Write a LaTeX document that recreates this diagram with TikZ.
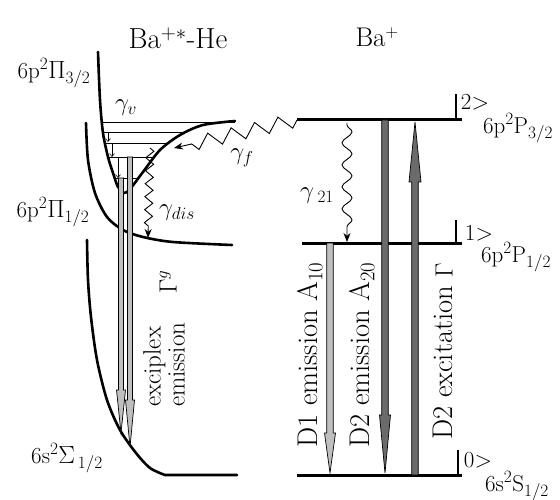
\documentclass[tikz,border=0pt]{standalone}
\usetikzlibrary{arrows.meta,decorations.pathmorphing,calc}
\tikzset{
  curve/.style={line width=2.6pt, line cap=round},
  level/.style={line width=3pt},
  vib/.style={line width=0.6pt},
  tickline/.style={line width=1.1pt},
  wave/.style={line width=0.9pt, decorate, -{Stealth[length=9pt,width=7pt]}},
  big/.style={font=\fontsize{29}{30}\selectfont, inner sep=0pt},
  lab/.style={font=\fontsize{23}{24}\selectfont, inner sep=0pt},
  gam/.style={font=\fontsize{26}{27}\selectfont, inner sep=0pt},
  rot/.style={font=\fontsize{28.5}{30}\selectfont, rotate=90, anchor=west, inner sep=0pt}
}
% wide hollow arrow: fill, from, to, head length, half shaft, half head
\newcommand\fatarrow[6]{%
  \filldraw[line width=0.7pt, fill=#1] let \p1=(#2), \p2=(#3), \p3=($(#3)!#4!(#2)$) in
    (\x1-#5,\y1) -- (\x1-#5,\y3) -- (\x1-#6,\y3) -- (\x2,\y2) -- (\x1+#6,\y3)
    -- (\x1+#5,\y3) -- (\x1+#5,\y1) -- cycle;}
\definecolor{lightarrow}{gray}{0.75}
\definecolor{darkarrow}{gray}{0.42}
\begin{document}
\begin{tikzpicture}[x=1pt,y=-1pt]
    \useasboundingbox (0,0) rectangle (560,500);
    % potential curves of the exciplex
    \draw[curve] plot[smooth] coordinates {(98,52) (100,100) (103,133) (108,157) (113,173) (118,187) (124,193) (130,189) (143,172) (160,150) (180,135) (203,125) (235,121)};
    \draw[curve] plot[smooth] coordinates {(86,123) (88,160) (95,193) (107,217) (123,230) (143,237) (173,242) (232,245)};
    \draw[curve] plot[smooth] coordinates {(87,240) (88,280) (91,317) (97,360) (107,400) (120,430) (136,453) (150,468) (165,475)} -- (237,475);
    % vibrational levels
    \coordinate (v1) at (108,122);
    \coordinate (v2) at (108,132);
    \coordinate (v3) at (112,143);
    \coordinate (v4) at (130,157);
    \coordinate (v5) at (121,178);
    \draw[vib] (101.5,122) -- (235,122);
    \draw[vib] (103,132) -- (187,132);
    \draw[vib] (105,143) -- (169,143);
    \draw[vib] (108,157) -- (154.5,157);
    \draw[vib] (115,178) -- (138,178);
    \draw[vib, -{Straight Barb[length=3pt,width=5pt]}] (v2) -- ++(0,10);
    \draw[vib, -{Straight Barb[length=3pt,width=5pt]}] (v3) -- ++(0,14);
    \draw[vib, -{Straight Barb[length=3pt,width=5pt]}] (118,157) -- ++(0,21);
    % exciplex emission
    \coordinate (e4) at (130,447);
    \coordinate (e5) at (121,433);
    \fatarrow{lightarrow}{v4}{e4}{47pt}{2.5pt}{4.5pt}
    \fatarrow{lightarrow}{v5}{e5}{43pt}{2.5pt}{4.5pt}
    % Ba+ levels
    \coordinate (s2) at (297,120);
    \coordinate (s1) at (302,243);
    \coordinate (s0) at (297,475);
    \draw[level] (s2) -- (462,120);
    \draw[level] (s1) -- (462,243);
    \draw[level] (s0) -- (462,475);
    \draw[tickline] (456,120) -- ++(0,-26);
    \draw[tickline] (456,243) -- ++(0,-23);
    \draw[tickline] (458,475) -- ++(0,-25);
    % transitions of the ion
    \coordinate (a10) at (330,243);
    \coordinate (b10) at (330,473);
    \coordinate (a20) at (385,120);
    \coordinate (b20) at (385,473);
    \coordinate (aex) at (415,475);
    \coordinate (bex) at (415,122);
    \fatarrow{lightarrow}{a10}{b10}{40pt}{3.3pt}{5.5pt}
    \fatarrow{darkarrow}{a20}{b20}{58pt}{3.3pt}{5.5pt}
    \fatarrow{darkarrow}{aex}{bex}{60pt}{3.3pt}{6pt}
    % collisional transfer
    \coordinate (w21) at (347,123);
    \coordinate (t21) at (347,242);
    \coordinate (tf) at (174,148);
    \coordinate (wd) at (150,148);
    \coordinate (td) at (148,238);
    \draw[wave, decoration={snake, amplitude=5pt, segment length=22pt, pre length=2pt, post length=9pt}] (w21) -- (t21);
    \draw[wave, decoration={zigzag, amplitude=7pt, segment length=24pt, post length=10pt}] (s2) -- (tf);
    \draw[wave, decoration={zigzag, amplitude=4pt, segment length=13pt, post length=9pt}] (wd) -- (td);
    % labels
    \node[big] (molec) at (178,38) {Ba$^{+*}$-He};
    \node[big, font=\fontsize{27}{28}\selectfont] (ion) at (377,37) {Ba$^{+}$};
    \node[lab] (pi32) at (54,73) {6p$^2\Pi_{3/2}$};
    \node[lab] (pi12) at (53,212) {6p$^2\Pi_{1/2}$};
    \node[lab] (sig) at (67,458) {6s$^2\Sigma_{\,1/2}$};
    \node[gam] (gv) at (126,108) {$\gamma_v$};
    \node[gam] (gf) at (242,158) {$\gamma_f$};
    \node[gam] (gd) at (177,213) {$\gamma_{dis}$};
    \node[gam] (g21) at (317,196) {$\gamma_{\;21}$};
    \node[rot, align=left, font=\fontsize{25}{24}\selectfont] (exc) at (164,407) {exciplex\\emission};
    \node[lab, rotate=90] (gamg) at (168,282) {$\Gamma^g$};
    \node[rot] (d1) at (310,448) {D1 emission A$_{10}$};
    \node[rot] (d2) at (362,448) {D2 emission A$_{20}$};
    \node[rot] (dx) at (443,440) {D2 excitation $\Gamma$};
    \node[lab] (k2) at (475,102) {2>};
    \node[lab] (k1) at (479,233) {1>};
    \node[lab] (k0) at (478,460) {0>};
    \node[lab] (p32) at (518,128) {6p$^2$P$_{3/2}$};
    \node[lab] (p12) at (516,257) {6p$^2$P$_{1/2}$};
    \node[lab] (s12) at (517,486) {6s$^2$S$_{1/2}$};
\end{tikzpicture}
\end{document}
